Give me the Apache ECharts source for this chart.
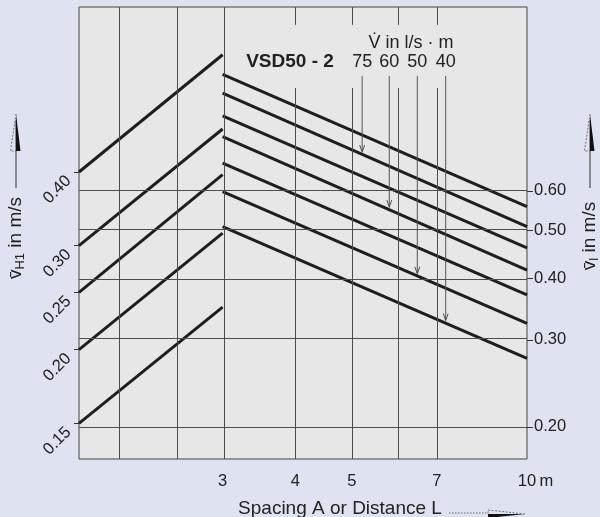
<!DOCTYPE html>
<html>
<head>
<meta charset="utf-8">
<title>VSD50-2</title>
<script src="https://cdn.jsdelivr.net/npm/echarts@6.0.0/dist/echarts.min.js"></script>
<style>
  html, body { margin: 0; padding: 0; background: #dee2f1; }
  #chart { width: 600px; height: 517px; }
</style>
</head>
<body>
<div id="chart"></div>
<script>
// spacing A / distance L in m
const spacingX = [1.7, 3]
const distanceX = [3, 10]
// rising lines, v_H1 in m/s (left scale)
const vH1Start = [0.40, 0.30, 0.25, 0.20, 0.15]
const vH1End = [0.632, 0.473, 0.396, 0.315, 0.236]
// falling lines, v_l in m/s (right scale)
const vlStart = [1.033, 0.946, 0.851, 0.773, 0.683, 0.598, 0.508]
const vlEnd = [0.558, 0.508, 0.460, 0.415, 0.370, 0.324, 0.275]
// volume flow markers, l/s·m
const flowLabels = ['75', '60', '50', '40']
const flowX = [5.21, 5.80, 6.48, 7.25]
const flowTop = 1.025
const flowEnd = [0.721, 0.558, 0.409, 0.329]
// ticks and grid
const xTicks = [3, 4, 5, 7, 10]
const xGrid = [2, 2.5, 3]
const xGridBroken = [4, 5, 6, 7]
const leftTicks = [0.15, 0.20, 0.25, 0.30, 0.40]
const rightTicks = [0.20, 0.30, 0.40, 0.50, 0.60]

const lg = Math.log10
const font = '"Liberation Sans", Arial, sans-serif'
const ink = '#1e1e1e'

// axis ranges (log10 space)
const xMin = 1.7, xMax = 10
const leftMin = 0.1305, leftMax = 0.7615
const rightMin = 0.1722, rightMax = 1.413

const series = []

// grid lines
series.push({
  type: 'line',
  yAxisIndex: 1,
  silent: true,
  showSymbol: false,
  data: [[lg(3), lg(0.6)]],
  markLine: {
    silent: true,
    animation: false,
    symbol: 'none',
    label: { show: false },
    lineStyle: { color: '#4d4d4d', width: 1, type: 'solid' },
    data: [
      ...xGrid.map(v => ({ xAxis: lg(v) })),
      ...rightTicks.map(v => ({ yAxis: lg(v) })),
      ...xGridBroken.flatMap(v => [
        [{ coord: [lg(v), lg(rightMax)] }, { coord: [lg(v), lg(1.30)] }],
        [{ coord: [lg(v), lg(0.969)] }, { coord: [lg(v), lg(rightMin)] }]
      ])
    ]
  }
})

// rising lines
vH1Start.forEach((v, i) => {
  series.push({
    type: 'line',
    yAxisIndex: 0,
    symbol: 'none',
    silent: true,
    lineStyle: { color: ink, width: 3 },
    data: [[lg(spacingX[0]), lg(v)], [lg(spacingX[1]), lg(vH1End[i])]]
  })
})

// falling lines
vlStart.forEach((v, i) => {
  series.push({
    type: 'line',
    yAxisIndex: 1,
    symbol: 'none',
    silent: true,
    lineStyle: { color: ink, width: 3 },
    data: [[lg(distanceX[0]), lg(v)], [lg(distanceX[1]), lg(vlEnd[i])]]
  })
})

// flow markers with small arrow heads
flowX.forEach((x, i) => {
  series.push({
    type: 'line',
    yAxisIndex: 1,
    silent: true,
    lineStyle: { color: '#555', width: 1 },
    data: [
      {
        value: [lg(x), lg(flowTop)],
        symbol: 'rect',
        symbolSize: 1,
        itemStyle: { color: 'rgba(0,0,0,0)' },
        label: {
          show: true, position: 'top', distance: 4, formatter: flowLabels[i],
          fontSize: 18, color: '#222', fontFamily: font
        }
      },
      {
        value: [lg(x), lg(flowEnd[i])],
        symbol: 'path://M0,0L4,9L8,0',
        symbolSize: [5, 7],
        symbolOffset: [0, -3],
        itemStyle: { color: 'rgba(0,0,0,0)', borderColor: '#444', borderWidth: 1 }
      }
    ]
  })
})

// upward arrows beside the axis titles
function arrowUp (x) {
  return [
    { type: 'line', shape: { x1: x, y1: 188, x2: x, y2: 120 }, style: { stroke: '#333', lineWidth: 1 } },
    { type: 'polygon', shape: { points: [[x, 114], [x + 4.5, 151], [x, 151]] }, style: { fill: '#111' } },
    { type: 'polyline', shape: { points: [[x, 114], [x - 5.5, 151], [x, 151]] }, style: { stroke: '#555', lineWidth: 0.8, lineDash: [2, 1.5], fill: null } }
  ]
}

const titleRich = {
  v: { fontSize: 19, fontFamily: font, fill: '#222', lineHeight: 22 },
  s: { fontSize: 13, fontFamily: font, fill: '#222', lineHeight: 14, verticalAlign: 'bottom' }
}

const option = {
  animation: false,
  backgroundColor: '#dee2f1',
  grid: {
    left: 79, right: 73, top: 7, bottom: 58,
    show: true, backgroundColor: '#e7e7e8', borderColor: '#444', borderWidth: 1
  },
  xAxis: {
    type: 'value',
    min: lg(xMin),
    max: lg(xMax),
    axisLine: { show: false },
    axisTick: { show: false },
    splitLine: { show: false },
    axisLabel: {
      customValues: xTicks.map(lg),
      margin: 14,
      fontSize: 16.5,
      color: '#222',
      fontFamily: font,
      formatter: v => {
        const n = Math.round(Math.pow(10, v))
        return n === 10 ? '{p|10\u2009m}' : String(n)
      },
      rich: { p: { padding: [0, 0, 0, 17], fontSize: 16.5, color: '#222', fontFamily: font } }
    }
  },
  yAxis: [
    {
      type: 'value',
      position: 'left',
      min: lg(leftMin),
      max: lg(leftMax),
      axisLine: { show: false },
      splitLine: { show: false },
      axisTick: { show: true, customValues: leftTicks.map(lg), length: 5, lineStyle: { color: '#333' } },
      axisLabel: {
        customValues: leftTicks.map(lg),
        rotate: 45,
        margin: 4,
        padding: [0, 9, 0, 0],
        fontSize: 16.5,
        color: '#222',
        fontFamily: font,
        formatter: v => Math.pow(10, v).toFixed(2)
      }
    },
    {
      type: 'value',
      position: 'right',
      min: lg(rightMin),
      max: lg(rightMax),
      axisLine: { show: false },
      splitLine: { show: false },
      axisTick: { show: true, customValues: rightTicks.map(lg), length: 6, lineStyle: { color: '#333' } },
      axisLabel: {
        customValues: rightTicks.map(lg),
        margin: 7,
        fontSize: 16.5,
        color: '#222',
        fontFamily: font,
        formatter: v => Math.pow(10, v).toFixed(2)
      }
    }
  ],
  graphic: [
    {
      type: 'text', x: 290, y: 62,
      style: { text: 'VSD50 - 2', font: 'bold 19px ' + font, fill: '#222', align: 'center', verticalAlign: 'middle' }
    },
    {
      type: 'text', x: 411, y: 43,
      style: { text: 'V\u0307 in l/s \u00b7 m', font: '18px ' + font, fill: '#222', align: 'center', verticalAlign: 'middle' }
    },
    {
      type: 'text', x: 16, y: 238, rotation: Math.PI / 2,
      style: { text: '{v|v\u0304}{s|H1}{v| in m/s}', rich: titleRich, align: 'center', verticalAlign: 'middle' }
    },
    {
      type: 'text', x: 590, y: 236, rotation: Math.PI / 2,
      style: { text: '{v|v\u0304}{s|l}{v| in m/s}', rich: titleRich, align: 'center', verticalAlign: 'middle' }
    },
    {
      type: 'text', x: 340, y: 509,
      style: { text: 'Spacing A or Distance L', font: '19px ' + font, fill: '#222', align: 'center', verticalAlign: 'middle' }
    },
    { type: 'line', shape: { x1: 449, y1: 513, x2: 488, y2: 513 }, style: { stroke: '#666', lineWidth: 1, lineDash: [1.5, 1.5] } },
    { type: 'polygon', shape: { points: [[525, 514], [488, 514], [488, 518]] }, style: { fill: '#111' } },
    { type: 'polyline', shape: { points: [[525, 514], [488, 510], [488, 514]] }, style: { stroke: '#555', lineWidth: 0.8, lineDash: [2, 1.5], fill: null } },
    ...arrowUp(16),
    ...arrowUp(590)
  ],
  series: series
}

const chart = echarts.init(document.getElementById('chart'))
chart.setOption(option)
</script>
</body>
</html>
